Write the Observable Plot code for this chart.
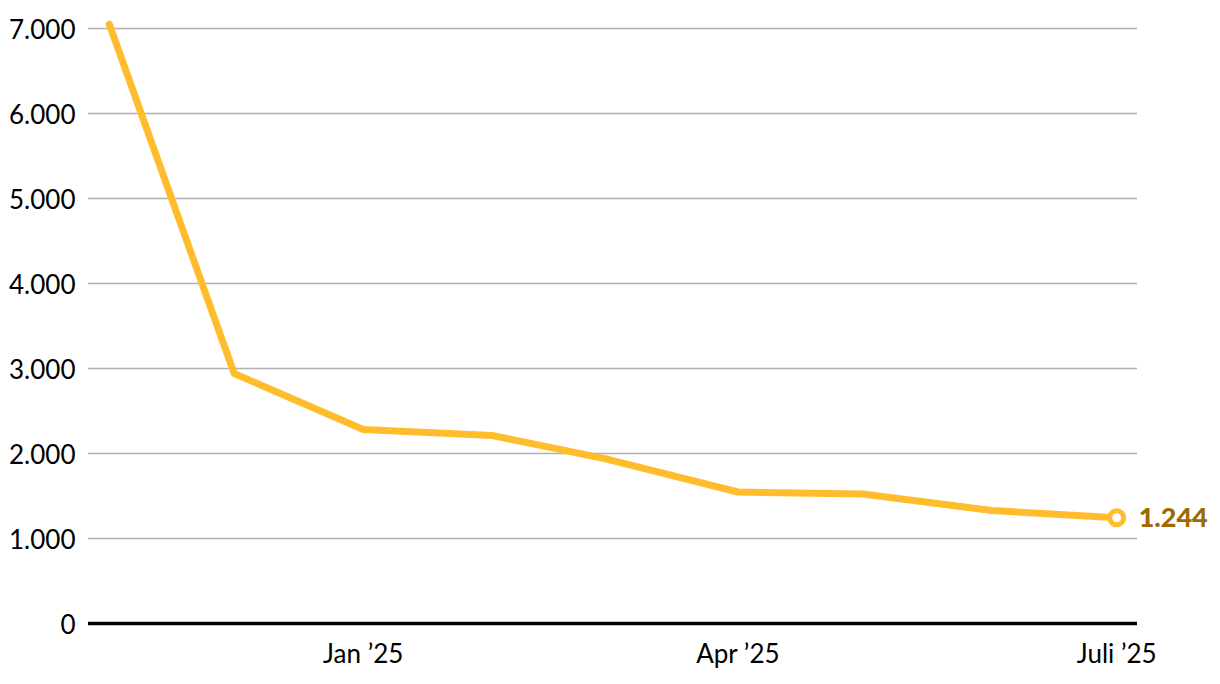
<!DOCTYPE html>
<html>
<head>
<meta charset="utf-8">
<script src="https://cdn.jsdelivr.net/npm/d3@7"></script>
<script src="https://cdn.jsdelivr.net/npm/@observablehq/plot@0.6"></script>
<style>
  html, body { margin: 0; padding: 0; background: #fff; }
  svg { display: block; }
</style>
</head>
<body>
<div id="chart"></div>
<script>
const months = ["2024-11-01","2024-12-01","2025-01-01","2025-02-01","2025-03-01","2025-04-01","2025-05-01","2025-06-01","2025-07-01"];
const values = [7050, 2941, 2282, 2212, 1929, 1547, 1524, 1329, 1244];
const yTicks = [0, 1000, 2000, 3000, 4000, 5000, 6000, 7000];
const xTickDates = ["2025-01-01", "2025-04-01", "2025-07-01"];
const xTickLabels = ["Jan ’25", "Apr ’25", "Juli ’25"];

const data = months.map((m, i) => ({date: new Date(m), value: values[i]}));
const last = [data[data.length - 1]];
const xTicks = xTickDates.map(d => new Date(d));
const fmt = d => d.toLocaleString("de-DE");

const chart = Plot.plot({
  width: 1220,
  height: 684,
  marginLeft: 88,
  marginRight: 83,
  marginTop: 28,
  marginBottom: 61,
  style: {fontFamily: "Lato, 'Source Sans Pro', sans-serif", fontSize: "26px", color: "#000", background: "#fff"},
  x: {
    type: "utc",
    domain: [new Date("2024-10-27"), new Date("2025-07-06")],
    label: null
  },
  y: {
    domain: [0, 7000],
    label: null
  },
  marks: [
    Plot.ruleY(yTicks.filter(d => d > 0), {stroke: "#b0b0b0", strokeWidth: 1.5}),
    Plot.ruleY([0], {stroke: "#000", strokeWidth: 3.5}),
    Plot.axisY({ticks: yTicks, tickFormat: fmt, tickSize: 0, tickPadding: 13, dy: 2, label: null}),
    Plot.axisX({ticks: xTicks, tickFormat: d => xTickLabels[xTicks.findIndex(t => +t === +d)], tickSize: 0, tickPadding: 21, label: null}),
    Plot.line(data, {x: "date", y: "value", stroke: "#FFBD2E", strokeWidth: 7, strokeLinecap: "round", strokeLinejoin: "round"}),
    Plot.dot(last, {x: "date", y: "value", r: 7, fill: "#fff", stroke: "#FFBD2E", strokeWidth: 5}),
    Plot.text(last, {x: "date", y: "value", text: d => fmt(d.value), dx: 22, dy: 1, textAnchor: "start", fontWeight: "900", fontSize: 27, fill: "#9C6A00"})
  ]
});
document.getElementById("chart").append(chart);
</script>
</body>
</html>
